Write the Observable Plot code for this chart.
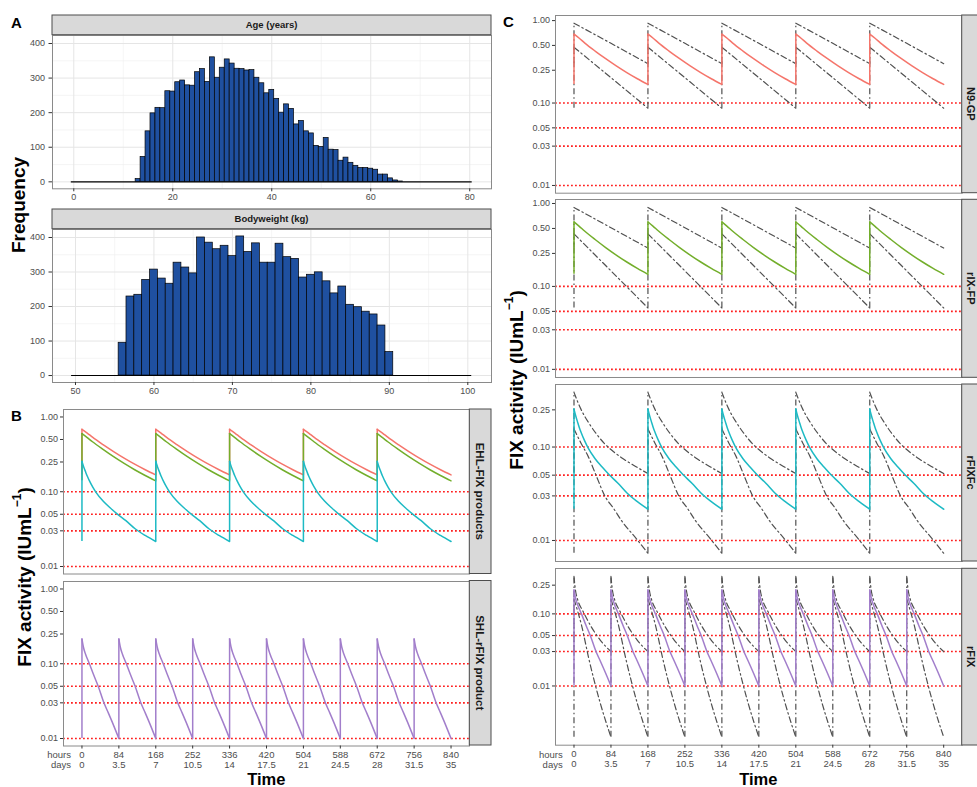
<!DOCTYPE html>
<html>
<head>
<meta charset="utf-8">
<script src="https://cdn.jsdelivr.net/npm/d3@7"></script>
<script src="https://cdn.jsdelivr.net/npm/@observablehq/plot@0.6"></script>
<style>
  html, body { margin: 0; padding: 0; background: #ffffff; }
  #fig { position: relative; width: 977px; height: 787px; overflow: hidden; background: #ffffff; }
</style>
</head>
<body>
<div id="fig"></div>
<script>
// ---------------- DATA ----------------
// Panel A: histograms (bin centres, 1-unit bins) and counts
const ageCenters = [13,14,15,16,17,18,19,20,21,22,23,24,25,26,27,28,29,30,31,32,33,34,35,36,37,38,39,40,41,42,43,44,45,46,47,48,49,50,51,52,53,54,55,56,57,58,59,60,61,62,63,64,65,66];
const ageCounts  = [8,72,146,198,214,213,262,261,288,293,279,278,317,326,289,360,301,330,354,342,327,326,322,323,301,285,256,266,240,200,224,211,166,176,146,140,104,101,127,93,92,61,70,55,46,40,40,38,35,21,21,10,4,1];
const ageRange = [0, 80];
const ageTicks = [0, 20, 40, 60, 80];

const weightCenters = [56,57,58,59,60,61,62,63,64,65,66,67,68,69,70,71,72,73,74,75,76,77,78,79,80,81,82,83,84,85,86,87,88,89,90];
const weightCounts  = [95,229,234,277,307,281,266,327,313,296,400,385,366,376,346,403,358,383,327,327,382,343,338,284,292,299,273,238,258,205,198,185,177,145,68];
const weightRange = [50, 100];
const weightTicks = [50, 60, 70, 80, 90, 100];
const freqTicks = [0, 100, 200, 300, 400];

// Dosing schedules (hours)
const doseHoursEHL = [0, 168, 336, 504, 672];
const doseHoursSHL = [0, 84, 168, 252, 336, 420, 504, 588, 672, 756];

// Concentration profiles over one dosing interval: [hours after dose, FIX activity IU/mL]
const n9gpMedian = [[0,0.685],[12,0.61],[24,0.537],[48,0.427],[72,0.345],[96,0.282],[120,0.234],[144,0.197],[168,0.168]];
const n9gpUpper  = [[0,0.93],[84,0.53],[168,0.30]];
const n9gpLower  = [[0,0.475],[84,0.203],[168,0.0865]];

const rixfpMedian = [[0,0.60],[12,0.53],[24,0.466],[48,0.368],[72,0.294],[96,0.239],[120,0.197],[144,0.165],[168,0.14]];
const rixfpUpper  = [[0,0.895],[84,0.51],[168,0.29]];
const rixfpLower  = [[0,0.43],[84,0.154],[168,0.055]];

const rfixfcMedian = [[0,0.255],[4,0.215],[8,0.186],[12,0.162],[16,0.144],[24,0.117],[32,0.098],[48,0.075],[64,0.061],[80,0.0505],[100,0.041],[121,0.032],[144,0.026],[168,0.0216]];
const rfixfcUpper  = [[0,0.385],[8,0.308],[16,0.253],[33,0.183],[50,0.14],[70,0.108],[90,0.089],[108,0.077],[140,0.062],[168,0.052]];
const rfixfcLower  = [[0,0.156],[16,0.11],[33,0.078],[50,0.05],[70,0.030],[90,0.022],[108,0.0163],[142,0.0104],[168,0.0073]];

const rfixMedian = [[0,0.215],[3,0.17],[8,0.135],[17,0.10],[27,0.07],[37,0.05],[50,0.03],[60,0.022],[72,0.015],[84,0.01]];
const rfixUpper  = [[0,0.33],[3,0.22],[8,0.16],[20,0.11],[40,0.065],[60,0.043],[84,0.03]];
const rfixLower  = [[0,0.16],[18,0.066],[33,0.025],[60,0.0057],[84,0.00195]];

// Reference thresholds (IU/mL)
const thresholdLevels = [0.01, 0.03, 0.05, 0.10];

// Axis tick labels
const hourTicks = [0, 84, 168, 252, 336, 420, 504, 588, 672, 756, 840];
const dayTicks  = [0, 3.5, 7, 10.5, 14, 17.5, 21, 24.5, 28, 31.5, 35];
const yTicksFull = [0.01, 0.03, 0.05, 0.10, 0.25, 0.50, 1.00];
const yTicksLow  = [0.01, 0.03, 0.05, 0.10, 0.25];

// Product colours
const COL = {n9gp: "#F5756B", rixfp: "#73AE2B", rfixfc: "#1DBAC4", rfix: "#A27ECB"};

// ---------------- HELPERS ----------------
const fig = document.getElementById("fig");
const FONT = '"Liberation Sans", Arial, Helvetica, sans-serif';
const TICK_COL = "#4d4d4d";
const fmt2 = d3.format(".2f");
const dayOf = new Map(hourTicks.map((h, i) => [h, dayTicks[i]]));

function mount(opts, box, pad) {
  const w = box.x1 - box.x0 + pad.l + pad.r;
  const h = box.y1 - box.y0 + pad.t + pad.b;
  const svg = Plot.plot({
    ...opts,
    width: w, height: h,
    marginLeft: pad.l, marginRight: pad.r, marginTop: pad.t, marginBottom: pad.b,
    style: {background: "transparent", overflow: "visible", fontFamily: FONT, fontSize: "9px", color: TICK_COL}
  });
  svg.style.position = "absolute";
  svg.style.left = (box.x0 - pad.l) + "px";
  svg.style.top = (box.y0 - pad.t) + "px";
  svg.style.maxWidth = "none";
  fig.appendChild(svg);
}

// Decay segments (one per dosing interval) and the vertical jumps at each dose
function decay(doses, profile) {
  const pts = [];
  doses.forEach((d, i) => { for (const [h, v] of profile) pts.push({t: d + h, v, cycle: i}); });
  return pts;
}
function jumps(doses, profile) {
  const trough = profile[profile.length - 1][1], peak = profile[0][1];
  return doses.map(d => ({t: d, lo: trough, hi: peak}));
}

function midpoints(ticks) { return d3.pairs(ticks).map(([a, b]) => (a + b) / 2); }

function histogram(centers, counts, range, ticks, xDomain, box) {
  const bars = centers.map((c, i) => ({x1: c - 0.5, x2: c + 0.5, y1: 0, y2: counts[i]}));
  const base = [{y: 0, x1: range[0] - 0.5, x2: range[1] + 0.5}];
  mount({
    x: {domain: xDomain},
    y: {domain: [-20.15, 423.15]},
    marks: [
      Plot.gridX(midpoints(ticks), {stroke: "#eeeeee", strokeOpacity: 1, strokeWidth: 0.6}),
      Plot.gridY(midpoints(freqTicks), {stroke: "#eeeeee", strokeOpacity: 1, strokeWidth: 0.6}),
      Plot.gridX(ticks, {stroke: "#e5e5e5", strokeOpacity: 1, strokeWidth: 1}),
      Plot.gridY(freqTicks, {stroke: "#e5e5e5", strokeOpacity: 1, strokeWidth: 1}),
      Plot.ruleY(base, {y: "y", x1: "x1", x2: "x2", stroke: "#000", strokeWidth: 1.1}),
      Plot.rect(bars, {x1: "x1", x2: "x2", y1: "y1", y2: "y2", fill: "#1F50A0", stroke: "#000", strokeWidth: 0.7}),
      Plot.frame({stroke: "#8a8a8a", strokeWidth: 1}),
      Plot.axisX({ticks, tickSize: 3, tickPadding: 2, stroke: "#333", fill: TICK_COL, label: null, fontSize: 9}),
      Plot.axisY({ticks: freqTicks, tickSize: 3.5, tickPadding: 4, stroke: "#333", fill: TICK_COL, label: null, fontSize: 9})
    ]
  }, box, {l: 45, r: 6, t: 4, b: 20});
}

function linePanel(box, yDomain, yTicks, layers, showX, pad) {
  const marks = [
    Plot.ruleY(thresholdLevels, {stroke: "#ff1f1f", strokeWidth: 1.6, strokeDasharray: "1.8,2.2"})
  ];
  for (const L of layers) {
    const st = {stroke: L.color, strokeWidth: L.width, strokeDasharray: L.dash || null};
    marks.push(Plot.ruleX(jumps(L.doses, L.profile), {x: "t", y1: "lo", y2: "hi", ...st}));
    marks.push(Plot.line(decay(L.doses, L.profile), {x: "t", y: "v", z: "cycle", curve: "monotone-x", ...st}));
  }
  marks.push(Plot.frame({stroke: "#8a8a8a", strokeWidth: 1}));
  marks.push(Plot.axisY({ticks: yTicks, text: d => fmt2(d), tickSize: 3, tickPadding: 2.5,
    stroke: "#333", fill: TICK_COL, label: null, fontSize: 9}));
  if (showX) {
    marks.push(Plot.axisX({ticks: hourTicks, text: h => `${h}\n${dayOf.get(h)}`, tickSize: 3, tickPadding: 2,
      stroke: "#333", fill: TICK_COL, label: null, fontSize: 9.5, lineHeight: 1.06}));
  }
  mount({
    x: {domain: [-42, 882], axis: showX ? undefined : null},
    y: {type: "log", domain: yDomain},
    marks
  }, box, pad);
}

const DASHDOT = "6,3,1.5,3";
function ciLayers(doses, med, up, lo, color) {
  return [
    {doses, profile: up, color: "#505050", width: 1.2, dash: DASHDOT},
    {doses, profile: lo, color: "#505050", width: 1.2, dash: DASHDOT},
    {doses, profile: med, color, width: 1.5}
  ];
}

// ---------------- PANEL A ----------------
histogram(ageCenters, ageCounts, ageRange, ageTicks, [-4.3, 84.4], {x0: 52, x1: 491, y0: 34.7, y1: 188});
histogram(weightCenters, weightCounts, weightRange, weightTicks, [47.07, 103.02], {x0: 52, x1: 491, y0: 228.7, y1: 381.7});

// ---------------- PANEL B ----------------
const bDomain = [0.00794, 1.259];
linePanel({x0: 63.3, x1: 469.3, y0: 409, y1: 573.5}, bDomain, yTicksFull, [
  {doses: doseHoursEHL, profile: n9gpMedian, color: COL.n9gp, width: 1.5},
  {doses: doseHoursEHL, profile: rixfpMedian, color: COL.rixfp, width: 1.5},
  {doses: doseHoursEHL, profile: rfixfcMedian, color: COL.rfixfc, width: 1.5}
], false, {l: 40, r: 4, t: 4, b: 4});
linePanel({x0: 63.3, x1: 469.3, y0: 580.5, y1: 745}, bDomain, yTicksFull, [
  {doses: doseHoursSHL, profile: rfixMedian, color: COL.rfix, width: 1.5}
], true, {l: 40, r: 14, t: 4, b: 30});

// ---------------- PANEL C ----------------
const cBox = (y0, y1) => ({x0: 555, x1: 961.7, y0, y1});
linePanel(cBox(15, 192.7), [0.00806, 1.153], yTicksFull,
  ciLayers(doseHoursEHL, n9gpMedian, n9gpUpper, n9gpLower, COL.n9gp), false, {l: 40, r: 4, t: 4, b: 4});
linePanel(cBox(199.3, 377.3), [0.00798, 1.117], yTicksFull,
  ciLayers(doseHoursEHL, rixfpMedian, rixfpUpper, rixfpLower, COL.rixfp), false, {l: 40, r: 4, t: 4, b: 4});
linePanel(cBox(384, 561), [0.00596, 0.467], yTicksLow,
  ciLayers(doseHoursEHL, rfixfcMedian, rfixfcUpper, rfixfcLower, COL.rfixfc), false, {l: 40, r: 4, t: 4, b: 4});
linePanel(cBox(568.3, 745), [0.00151, 0.4256], yTicksLow,
  ciLayers(doseHoursSHL, rfixMedian, rfixUpper, rfixLower, COL.rfix), true, {l: 40, r: 14, t: 4, b: 30});

// ---------------- OVERLAY: strips, titles, labels ----------------
const ov = d3.select(fig).append("svg")
  .attr("width", 977).attr("height", 787)
  .style("position", "absolute").style("left", "0px").style("top", "0px")
  .style("font-family", FONT).style("pointer-events", "none");

function strip(x, y, w, h, label, vertical, size, textCx) {
  ov.append("rect").attr("x", x).attr("y", y).attr("width", w).attr("height", h)
    .attr("fill", "#d9d9d9").attr("stroke", "#4d4d4d").attr("stroke-width", 1);
  const t = ov.append("text").text(label)
    .attr("text-anchor", "middle").attr("dominant-baseline", "central")
    .attr("font-weight", "bold").attr("font-size", size).attr("fill", "#1a1a1a");
  const cx = textCx ?? x + w / 2;
  if (vertical) t.attr("transform", `translate(${cx},${y + h / 2}) rotate(90)`);
  else t.attr("x", cx).attr("y", y + h / 2);
}

strip(52, 15, 439, 19.7, "Age (years)", false, 9.5);
strip(52, 209, 439, 19.7, "Bodyweight (kg)", false, 9.5);
strip(469.3, 409, 21.7, 164.5, "EHL-FIX products", true, 11.5);
strip(469.3, 580.5, 21.7, 164.5, "SHL-rFIX product", true, 11.5);
strip(961.7, 15, 22, 177.7, "N9-GP", true, 11, 970.5);
strip(961.7, 199.3, 22, 178, "rIX-FP", true, 11, 970.5);
strip(961.7, 384, 22, 177, "rFIXFc", true, 11, 970.5);
strip(961.7, 568.3, 22, 176.7, "rFIX", true, 11, 970.5);

function label(x, y, txt, size, opts = {}) {
  return ov.append("text").text(txt).attr("x", x).attr("y", y)
    .attr("font-size", size).attr("font-weight", opts.bold ? "bold" : "normal")
    .attr("fill", opts.fill || "#000").attr("text-anchor", opts.anchor || "middle")
    .attr("dominant-baseline", "central");
}
// Panel letters
label(11, 22, "A", 15, {bold: true, anchor: "start"});
label(11, 415.5, "B", 15, {bold: true, anchor: "start"});
label(503, 21, "C", 15, {bold: true, anchor: "start"});

// Y titles
ov.append("text").text("Frequency")
  .attr("transform", "translate(18,205) rotate(-90)")
  .attr("text-anchor", "middle").attr("dominant-baseline", "central")
  .attr("font-size", 19).attr("font-weight", "bold").attr("fill", "#000");

function fixTitle(cx, cy) {
  const t = ov.append("text")
    .attr("transform", `translate(${cx},${cy}) rotate(-90)`)
    .attr("text-anchor", "middle").attr("dominant-baseline", "central")
    .attr("font-size", 19).attr("font-weight", "bold").attr("fill", "#000");
  t.append("tspan").text("FIX activity (IUmL");
  t.append("tspan").text("\u22121").attr("font-size", 12).attr("dy", -7);
  t.append("tspan").text(")").attr("dy", 7);
}
fixTitle(24, 577);
fixTitle(516, 380);

// X titles and row labels
label(266.3, 778.6, "Time", 16.5, {bold: true});
label(758.3, 778.6, "Time", 16.5, {bold: true});
for (const xr of [71, 562.7]) {
  label(xr, 754.5, "hours", 9.5, {anchor: "end", fill: TICK_COL});
  label(xr, 764.6, "days", 9.5, {anchor: "end", fill: TICK_COL});
}
</script>
</body>
</html>
